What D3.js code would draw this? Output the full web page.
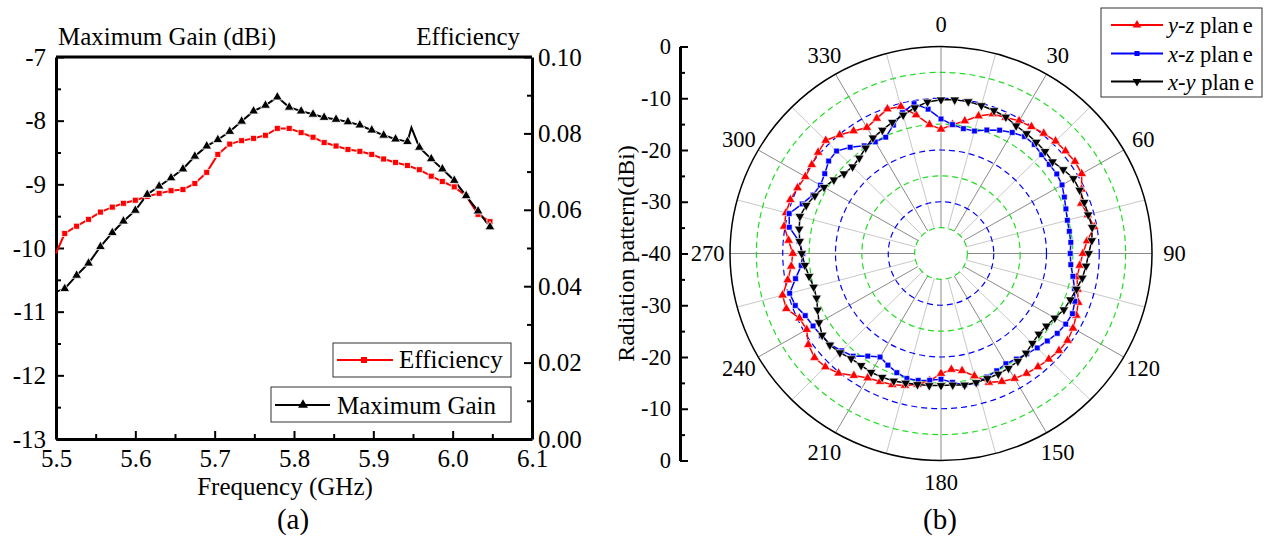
<!DOCTYPE html>
<html>
<head>
<meta charset="utf-8">
<script src="https://cdn.jsdelivr.net/npm/d3@7"></script>
<style>
body { margin: 0; background: #fff; }
text { font-family: "Liberation Serif", "Times New Roman", serif; fill: #000; }
</style>
</head>
<body>
<svg width="1265" height="537"></svg>
<script>
// ---------- data (a): gain / efficiency vs frequency ----------
const freq = [5.511, 5.526, 5.541, 5.556, 5.571, 5.585, 5.600, 5.615, 5.630, 5.645,
              5.660, 5.675, 5.690, 5.704, 5.719, 5.734, 5.749, 5.764, 5.779, 5.794,
              5.809, 5.824, 5.838, 5.853, 5.868, 5.883, 5.898, 5.913, 5.928, 5.943,
              5.958, 5.973, 5.987, 6.002, 6.017, 6.032, 6.047];
const gain = [-10.64, -10.43, -10.24, -9.98, -9.76, -9.58, -9.41, -9.16, -9.03, -8.90,
              -8.76, -8.56, -8.40, -8.30, -8.17, -8.01, -7.85, -7.76, -7.63, -7.79,
              -7.85, -7.90, -7.95, -7.98, -8.02, -8.07, -8.15, -8.23, -8.29, -8.33,
              -8.42, -8.60, -8.76, -8.94, -9.18, -9.42, -9.67];
const eff = [0.0538, 0.0557, 0.0575, 0.0594, 0.0607, 0.0617, 0.0625, 0.0635, 0.0643, 0.0650,
             0.0653, 0.0669, 0.0698, 0.0745, 0.0772, 0.0781, 0.0787, 0.0795, 0.0813, 0.0813,
             0.0802, 0.0790, 0.0776, 0.0767, 0.0758, 0.0753, 0.0745, 0.0733, 0.0724, 0.0716,
             0.0705, 0.0688, 0.0674, 0.0660, 0.0636, 0.0588, 0.0569];
// points on the line that carry no symbol
const gainExtra = [[5.5, -10.69], [5.948, -8.11]];
const effExtra = [[5.5, 0.0486]];

const freqTicks = [5.5, 5.6, 5.7, 5.8, 5.9, 6.0, 6.1];
const freqMinor = [5.55, 5.65, 5.75, 5.85, 5.95, 6.05];
const gainTicks = [-13, -12, -11, -10, -9, -8, -7];
const gainMinor = [-12.5, -11.5, -10.5, -9.5, -8.5, -7.5];
const effTicks = [0, 0.02, 0.04, 0.06, 0.08, 0.10];
const effMinor = [0.01, 0.03, 0.05, 0.07, 0.09];

// ---------- data (b): radiation pattern, dBi every 5 degrees ----------
const angles = d3.range(0, 360, 5);
const yzPlane = [-16.0, -15.0, -14.0, -12.5, -11.3, -11.0, -10.4, -10.1, -9.7, -9.3,
                 -9.2, -9.0, -9.2, -10.6, -11.7, -11.2, -10.5, -12.2, -13.1, -13.6,
                 -13.8, -13.2, -12.3, -11.7, -11.1, -10.7, -10.8, -11.1, -11.4, -11.7,
                 -12.1, -12.7, -13.5, -15.5, -17.0, -17.5, -16.8, -15.3, -14.3, -13.6,
                 -13.0, -12.7, -12.2, -11.2, -9.8, -9.0, -8.7, -9.3, -10.6, -10.4,
                 -8.8, -8.9, -10.5, -11.5, -11.9, -11.0, -9.8, -9.6, -9.6, -10.0,
                 -10.3, -10.1, -9.6, -9.1, -10.1, -11.1, -11.9, -11.2, -10.3, -10.6,
                 -12.8, -15.0];
const xzPlane = [-14.0, -15.0, -15.5, -15.5, -14.6, -13.7, -13.0, -12.4, -12.5, -13.0,
                 -13.2, -13.2, -13.5, -14.2, -14.8, -15.2, -15.3, -15.3, -15.5, -15.3,
                 -14.6, -13.8, -13.0, -12.5, -12.7, -13.1, -13.7, -14.2, -14.7, -15.1,
                 -15.4, -15.0, -14.6, -14.1, -14.2, -15.0, -15.7, -15.4, -15.1, -15.0,
                 -15.5, -16.2, -16.9, -15.8, -14.1, -13.4, -12.6, -12.3, -12.0, -11.6,
                 -10.6, -10.3, -12.0, -13.4, -13.8, -13.0, -10.8, -10.2, -12.0, -13.2,
                 -13.6, -13.1, -12.2, -12.0, -13.2, -14.6, -15.1, -15.2, -13.6, -11.8,
                 -10.6, -12.0];
const xyPlane = [-10.3, -10.2, -10.2, -10.4, -10.6, -10.9, -11.5, -11.7, -11.9, -12.1,
                 -12.4, -11.7, -11.0, -11.0, -11.1, -11.1, -10.9, -11.3, -12.0, -12.4,
                 -12.8, -13.4, -13.9, -14.3, -15.1, -15.6, -15.8, -15.5, -14.9, -14.6,
                 -14.4, -14.3, -14.3, -14.2, -14.2, -14.5, -14.5, -14.4, -14.3, -14.1,
                 -13.8, -13.6, -13.5, -13.6, -13.5, -12.9, -12.5, -12.5, -13.3, -14.2,
                 -14.9, -15.0, -14.6, -14.1, -13.6, -13.1, -12.7, -12.3, -12.8, -13.6,
                 -14.4, -15.2, -16.0, -16.3, -15.9, -15.1, -14.2, -13.7, -13.0, -12.3,
                 -11.4, -10.6];
const angleLabels = [0, 30, 60, 90, 120, 150, 180, 210, 240, 270, 300, 330];
const ringsGreen = [-5, -15, -25, -35];
const ringsBlue = [-10, -20, -30];
const radialTicks = [-40, -30, -20, -10, 0];
const radialMinor = [-35, -25, -15, -5];

const svg = d3.select('svg');
const plain = d => String(d);   // keeps an ASCII hyphen for negatives

// helper: style an axis group
function styleAxis(g, size, width) {
    g.attr('font-size', size).attr('font-family', null);
    g.selectAll('.domain').attr('stroke-width', width);
    g.selectAll('.tick line').attr('stroke-width', 2);
}

// ================= (a) =================
const x = d3.scaleLinear().domain([5.5, 6.1]).range([56, 532]);
const yGain = d3.scaleLinear().domain([-13, -7]).range([439, 57]);
const yEff = d3.scaleLinear().domain([0, 0.1]).range([439, 57]);
const pa = svg.append('g');

// minor ticks first
pa.append('g').attr('transform', 'translate(0,439)')
    .call(d3.axisBottom(x).tickValues(freqMinor).tickSize(-5).tickFormat(''))
    .call(g => g.select('.domain').remove())
    .selectAll('line').attr('stroke-width', 2);
pa.append('g').attr('transform', 'translate(56,0)')
    .call(d3.axisLeft(yGain).tickValues(gainMinor).tickSize(-5).tickFormat(''))
    .call(g => g.select('.domain').remove())
    .selectAll('line').attr('stroke-width', 2);
pa.append('g').attr('transform', 'translate(532,0)')
    .call(d3.axisRight(yEff).tickValues(effMinor).tickSize(-5).tickFormat(''))
    .call(g => g.select('.domain').remove())
    .selectAll('line').attr('stroke-width', 2);

pa.append('g').attr('transform', 'translate(0,439)')
    .call(d3.axisBottom(x).tickValues(freqTicks).tickFormat(d3.format('.1f'))
        .tickSizeInner(-8).tickSizeOuter(0).tickPadding(10))
    .call(g => styleAxis(g, 25, 3));
pa.append('g').attr('transform', 'translate(56,0)')
    .call(d3.axisLeft(yGain).tickValues(gainTicks).tickFormat(plain)
        .tickSizeInner(-8).tickSizeOuter(0).tickPadding(10))
    .call(g => styleAxis(g, 25, 3));
pa.append('g').attr('transform', 'translate(532,0)')
    .call(d3.axisRight(yEff).tickValues(effTicks).tickFormat(d3.format('.2f'))
        .tickSizeInner(-8).tickSizeOuter(0).tickPadding(6))
    .call(g => styleAxis(g, 25, 3));
pa.append('line').attr('x1', 56).attr('x2', 532).attr('y1', 57).attr('y2', 57)
    .attr('stroke', '#000').attr('stroke-width', 3);

// series
const gainLine = freq.map((f, i) => [f, gain[i]]).concat(gainExtra).sort((a, b) => a[0] - b[0]);
const effLine = freq.map((f, i) => [f, eff[i]]).concat(effExtra).sort((a, b) => a[0] - b[0]);

pa.append('path').datum(effLine)
    .attr('d', d3.line().x(d => x(d[0])).y(d => yEff(d[1])))
    .attr('fill', 'none').attr('stroke', '#ff0000').attr('stroke-width', 2);
pa.append('path').datum(gainLine)
    .attr('d', d3.line().x(d => x(d[0])).y(d => yGain(d[1])))
    .attr('fill', 'none').attr('stroke', '#000').attr('stroke-width', 2);

pa.selectAll('.effMark').data(freq).join('path')
    .attr('transform', (f, i) => `translate(${x(f)},${yEff(eff[i])})`)
    .attr('d', d3.symbol().type(d3.symbolSquare).size(36))
    .attr('fill', '#ff0000').attr('stroke', '#fff').attr('stroke-width', 0.8);
pa.selectAll('.gainMark').data(freq).join('path')
    .attr('transform', (f, i) => `translate(${x(f)},${yGain(gain[i])})`)
    .attr('d', d3.symbol().type(d3.symbolTriangle).size(42))
    .attr('fill', '#000').attr('stroke', '#fff').attr('stroke-width', 0.8);

// titles
pa.append('text').attr('x', 58).attr('y', 45).attr('font-size', 25).text('Maximum Gain (dBi)');
pa.append('text').attr('x', 520).attr('y', 45).attr('font-size', 25)
    .attr('text-anchor', 'end').text('Efficiency');
pa.append('text').attr('x', 285).attr('y', 495).attr('font-size', 25)
    .attr('text-anchor', 'middle').text('Frequency (GHz)');
pa.append('text').attr('x', 293).attr('y', 529).attr('font-size', 29)
    .attr('text-anchor', 'middle').text('(a)');

// legends
pa.append('rect').attr('x', 333).attr('y', 343).attr('width', 178).attr('height', 34)
    .attr('fill', '#fff').attr('stroke', '#333').attr('stroke-width', 1);
pa.append('line').attr('x1', 337).attr('x2', 393).attr('y1', 360).attr('y2', 360)
    .attr('stroke', '#ff0000').attr('stroke-width', 2);
pa.append('path').attr('transform', 'translate(364,360)')
    .attr('d', d3.symbol().type(d3.symbolSquare).size(36)).attr('fill', '#ff0000');
pa.append('text').attr('x', 399).attr('y', 368).attr('font-size', 25).text('Efficiency');

pa.append('rect').attr('x', 271).attr('y', 387).attr('width', 240).attr('height', 35)
    .attr('fill', '#fff').attr('stroke', '#333').attr('stroke-width', 1);
pa.append('line').attr('x1', 275).attr('x2', 330).attr('y1', 405).attr('y2', 405)
    .attr('stroke', '#000').attr('stroke-width', 2);
pa.append('path').attr('transform', 'translate(303,405)')
    .attr('d', d3.symbol().type(d3.symbolTriangle).size(42)).attr('fill', '#000');
pa.append('text').attr('x', 337).attr('y', 414).attr('font-size', 25).text('Maximum Gain');

// ================= (b) =================
const cx = 941, cy = 253.5, R = 207, kx = 211 / 207;
const r = d3.scaleLinear().domain([-40, 0]).range([0, R]);
const rad = d => d * Math.PI / 180;
const px = (a, v) => cx + kx * r(v) * Math.sin(rad(a));
const py = (a, v) => cy - r(v) * Math.cos(rad(a));
const pb = svg.append('g');

// spokes
pb.selectAll('.spoke').data(d3.range(0, 360, 15)).join('line')
    .attr('x1', a => px(a, -35)).attr('y1', a => py(a, -35))
    .attr('x2', a => px(a, 0)).attr('y2', a => py(a, 0))
    .attr('stroke', a => a % 30 === 0 ? '#8a8a8a' : '#c8c8c8').attr('stroke-width', 1);

// dashed rings
pb.selectAll('.rg').data(ringsGreen).join('ellipse')
    .attr('cx', cx).attr('cy', cy).attr('rx', v => kx * r(v)).attr('ry', v => r(v))
    .attr('fill', 'none').attr('stroke', '#22dd22').attr('stroke-width', 1.2)
    .attr('stroke-dasharray', '6,4');
pb.selectAll('.rb').data(ringsBlue).join('ellipse')
    .attr('cx', cx).attr('cy', cy).attr('rx', v => kx * r(v)).attr('ry', v => r(v))
    .attr('fill', 'none').attr('stroke', '#0000ff').attr('stroke-width', 1.2)
    .attr('stroke-dasharray', '6,4');
pb.append('ellipse').attr('cx', cx).attr('cy', cy).attr('rx', kx * R).attr('ry', R)
    .attr('fill', 'none').attr('stroke', '#000').attr('stroke-width', 1.5);

// curves
const series = [
    { vals: yzPlane, color: '#ff0000', sym: d3.symbolTriangle, size: 40, rot: 0 },
    { vals: xzPlane, color: '#0000ff', sym: d3.symbolSquare, size: 32, rot: 0 },
    { vals: xyPlane, color: '#000000', sym: d3.symbolTriangle, size: 40, rot: 180 }
];
series.forEach(s => {
    pb.append('path').datum(angles)
        .attr('d', d3.line().x((a, i) => px(a, s.vals[i])).y((a, i) => py(a, s.vals[i]))
            .curve(d3.curveLinearClosed))
        .attr('fill', 'none').attr('stroke', s.color).attr('stroke-width', 1.5);
    pb.append('g').selectAll('path').data(angles).join('path')
        .attr('transform', (a, i) => `translate(${px(a, s.vals[i])},${py(a, s.vals[i])}) rotate(${s.rot})`)
        .attr('d', d3.symbol().type(s.sym).size(s.size))
        .attr('fill', s.color).attr('stroke', '#fff').attr('stroke-width', 0.6);
});

// angle labels
pb.selectAll('.alab').data(angleLabels).join('text')
    .attr('x', a => cx + kx * 229 * Math.sin(rad(a)))
    .attr('y', a => cy - 229 * Math.cos(rad(a)))
    .attr('dy', '0.35em').attr('text-anchor', 'middle').attr('font-size', 22.5)
    .text(a => a);

// radial axis on the left
const yTop = d3.scaleLinear().domain([-40, 0]).range([cy, cy - R]);
const yBot = d3.scaleLinear().domain([-40, 0]).range([cy, cy + R]);
[yTop, yBot].forEach((sc, k) => {
    pb.append('g').attr('transform', 'translate(680,0)')
        .call(d3.axisLeft(sc).tickValues(radialMinor).tickSize(-5).tickFormat(''))
        .call(g => g.select('.domain').remove())
        .selectAll('line').attr('stroke-width', 2);
    pb.append('g').attr('transform', 'translate(680,0)')
        .call(d3.axisLeft(sc).tickValues(k === 0 ? radialTicks : radialTicks.slice(1))
            .tickFormat(plain).tickSizeInner(-8).tickSizeOuter(0).tickPadding(9))
        .call(g => styleAxis(g, 22.5, 3));
});
pb.append('text').attr('transform', `translate(626,${cy}) rotate(-90)`)
    .attr('dy', '0.35em').attr('text-anchor', 'middle').attr('font-size', 24)
    .text('Radiation pattern(dBi)');
pb.append('text').attr('x', 940).attr('y', 529).attr('font-size', 29)
    .attr('text-anchor', 'middle').text('(b)');

// legend
const leg = pb.append('g');
leg.append('rect').attr('x', 1101).attr('y', 8).attr('width', 161).attr('height', 89)
    .attr('fill', '#fff').attr('stroke', '#333').attr('stroke-width', 1);
const legNames = [['y', 'z'], ['x', 'z'], ['x', 'y']];
const legY = [25, 53.5, 81.5];
series.forEach((s, i) => {
    leg.append('line').attr('x1', 1111).attr('x2', 1163).attr('y1', legY[i]).attr('y2', legY[i])
        .attr('stroke', s.color).attr('stroke-width', 2);
    leg.append('path').attr('transform', `translate(1137,${legY[i]}) rotate(${s.rot})`)
        .attr('d', d3.symbol().type(s.sym).size(s.size * 0.8)).attr('fill', s.color);
    const t = leg.append('text').attr('x', 1168).attr('y', legY[i] + 8).attr('font-size', 22.5);
    t.append('tspan').attr('font-style', 'italic').text(legNames[i][0]);
    t.append('tspan').text('-');
    t.append('tspan').attr('font-style', 'italic').text(legNames[i][1]);
    t.append('tspan').text(' plan');
    t.append('tspan').attr('dx', 4).text('e');
});
</script>
</body>
</html>
